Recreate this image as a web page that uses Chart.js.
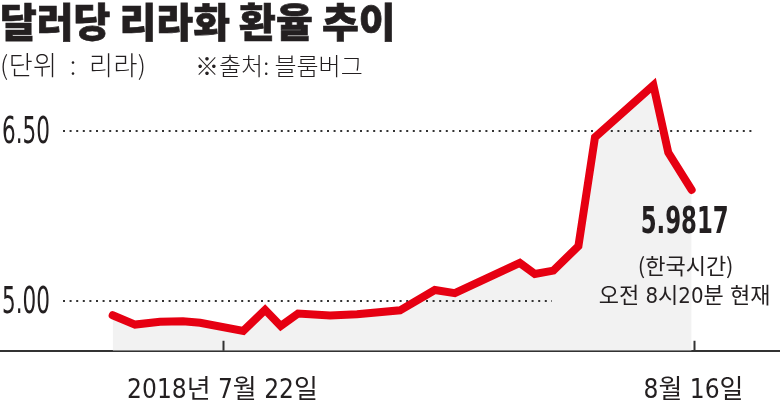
<!DOCTYPE html>
<html><head><meta charset="utf-8">
<script src="https://cdn.jsdelivr.net/npm/chart.js@4.4.1/dist/chart.umd.min.js"></script>
<style>
html,body{margin:0;padding:0;background:#fff;}
#wrap{position:relative;width:780px;height:412px;overflow:hidden;background:#fff;}
canvas{position:absolute;left:0;top:0;}
.title{position:absolute;left:0;top:-4px;font:900 40px/48px 'Noto Sans CJK KR';color:#231f20;white-space:nowrap;-webkit-text-stroke:0.7px #231f20;}
.sub{position:absolute;top:47px;font:300 26px/34px 'Noto Sans CJK KR';color:#231f20;white-space:nowrap;}
</style></head>
<body><div id="wrap"><canvas id="c" width="780" height="431"></canvas>
<div class="title">달러당 리라화 환율 추이</div>
<div class="sub" style="left:0;letter-spacing:0.5px;word-spacing:6px">(단위 : 리라)</div>
<div class="sub" style="left:195px;font-size:24px;top:48px">※출처: 블룸버그</div>
</div>
<script>
// day numbers counted from 1 July 2018 (August = 31 + day)
const days = [16.17, 17.36, 18.68, 19.90, 20.81, 23.10, 24.26, 25.09, 26.01, 27.71, 29.14, 31.42, 33.27, 34.33, 37.78, 38.58, 39.56, 40.89, 41.77, 44.87, 45.66, 46.90];
const rates = [4.872, 4.789, 4.813, 4.819, 4.805, 4.733, 4.920, 4.777, 4.887, 4.869, 4.881, 4.915, 5.095, 5.068, 5.335, 5.237, 5.267, 5.484, 6.449, 6.910, 6.313, 5.9817];
const xTicks = [22, 47];
const xTickLabels = ['2018년 7월 22일', '8월 16일'];
const yTicks = [5.00, 6.50];
const yTickLabels = ['5.00', '6.50'];
const lastLabel = '5.9817';
const noteLines = ['(한국시간)', '오전 8시20분 현재'];

const NARROW = '"Liberation Sans Narrow", "DejaVu Sans Condensed", "Noto Sans CJK KR", sans-serif';
const gridEnds = [552, 752];

function fitText(ctx, text, x, y, w, align) {
  const m = ctx.measureText(text).width;
  const s = Math.min(1, w / m);
  ctx.save();
  ctx.translate(x, y);
  ctx.scale(s, 1);
  ctx.textAlign = align;
  ctx.fillText(text, 0, 0);
  ctx.restore();
}

const decor = {
  id: 'decor',
  beforeDatasetsDraw(chart) {
    const {ctx, scales: {y}} = chart;
    ctx.save();
    ctx.strokeStyle = '#333';
    ctx.lineWidth = 2;
    ctx.setLineDash([2, 4.6]);
    yTicks.forEach((v, i) => {
      const py = Math.round(y.getPixelForValue(v));
      ctx.beginPath(); ctx.moveTo(63, py); ctx.lineTo(gridEnds[i], py); ctx.stroke();
    });
    ctx.setLineDash([]);
    ctx.fillStyle = '#231f20';
    ctx.font = '37px ' + NARROW;
    ctx.textBaseline = 'alphabetic';
    yTickLabels.forEach((t, i) => {
      const py = y.getPixelForValue(yTicks[i]);
      fitText(ctx, t, 2, py + 12, 48, 'left');
    });
    ctx.restore();
  },
  afterDraw(chart) {
    const {ctx, chartArea, scales: {x}} = chart;
    ctx.save();
    ctx.strokeStyle = '#333';
    ctx.lineWidth = 2;
    xTicks.forEach(v => {
      const px = Math.round(x.getPixelForValue(v)) + 0.5;
      ctx.beginPath(); ctx.moveTo(px, chartArea.bottom - 10); ctx.lineTo(px, chartArea.bottom); ctx.stroke();
    });
    const meta = chart.getDatasetMeta(0);
    const last = meta.data[meta.data.length - 1];
    const cx = last.x - 7;
    ctx.fillStyle = '#231f20';
    ctx.strokeStyle = '#231f20';
    ctx.lineWidth = 0.8;
    ctx.textBaseline = 'alphabetic';
    ctx.font = 'bold 37px ' + NARROW;
    fitText(ctx, lastLabel, cx, last.y + 43, 88, 'center');
    ctx.font = '22px "Noto Sans CJK KR", sans-serif';
    fitText(ctx, noteLines[0], cx + 1, last.y + 84, 100, 'center');
    ctx.font = '22px ' + NARROW;
    fitText(ctx, noteLines[1], cx, last.y + 113, 176, 'center');
    ctx.restore();
  }
};

new Chart(document.getElementById('c'), {
  type: 'line',
  data: {
    datasets: [{
      data: days.map((d, i) => ({x: d, y: rates[i]})),
      borderColor: '#e60012',
      borderWidth: 8,
      borderCapStyle: 'round',
      borderJoinStyle: 'miter',
      pointRadius: 0,
      tension: 0,
      fill: 'start',
      backgroundColor: '#f2f2f2'
    }]
  },
  options: {
    responsive: false,
    animation: false,
    events: [],
    layout: {padding: {top: 60, bottom: 0, left: 0, right: 0}},
    plugins: {
      legend: {display: false},
      tooltip: {enabled: false},
      title: {display: false},
      filler: {drawTime: 'beforeDatasetsDraw'}
    },
    scales: {
      x: {
        type: 'linear',
        min: 10.19,
        max: 51.59,
        z: 1,
        grid: {display: false, drawTicks: false},
        border: {display: true, color: '#333', width: 2},
        afterBuildTicks: ax => { ax.ticks = xTicks.map(v => ({value: v})); },
        ticks: {
          autoSkip: false,
          maxRotation: 0,
          padding: 24,
          color: '#231f20',
          font: {family: NARROW, size: 26, lineHeight: 1.24},
          callback: (v, i) => xTickLabels[i]
        }
      },
      y: {display: false, min: 4.557, max: 7.133}
    }
  },
  plugins: [decor]
});
</script>
</body></html>
